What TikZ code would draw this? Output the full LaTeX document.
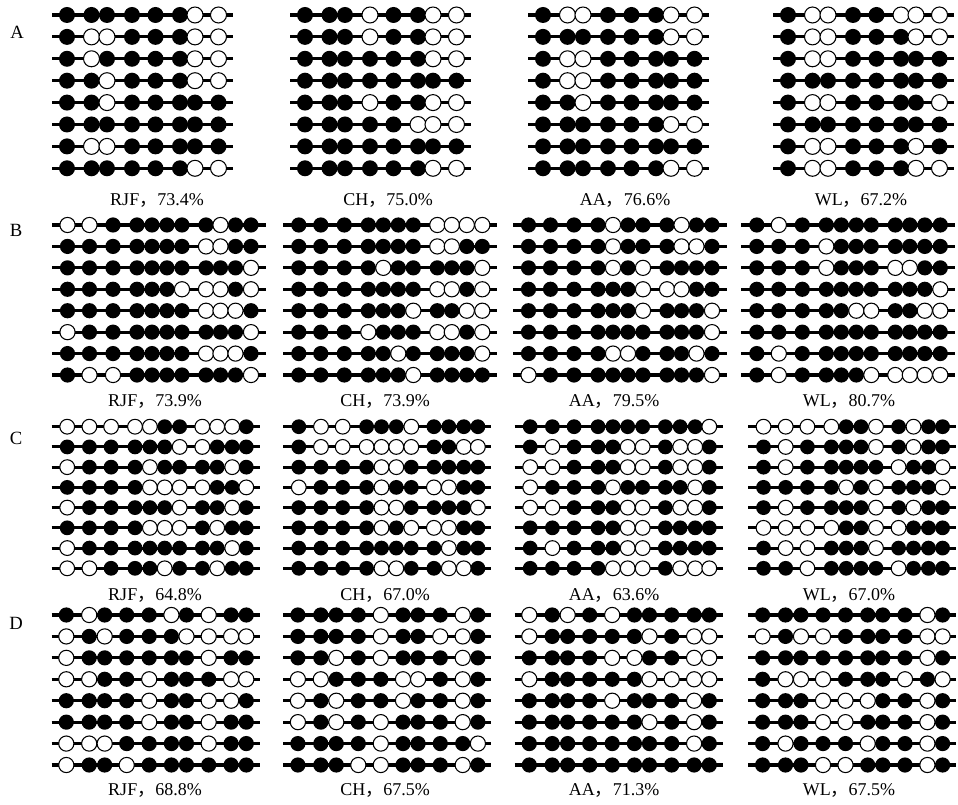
\documentclass[tikz,border=0pt]{standalone}
\usepackage{fontspec}
\setmainfont{Liberation Serif}
\newfontfamily\cjk{Noto Sans CJK SC}
\usepackage{xstring}
\tikzset{
  strand/.style={line width=2.3pt, black},
  opencpg/.style={fill=white, draw=black, line width=0.8pt},
  fullcpg/.style={fill=black},
  panellabel/.style={font=\fontsize{13.5}{15}\selectfont, inner sep=0pt, anchor=center},
  rowletter/.style={font=\fontsize{14}{16}\selectfont, inner sep=0pt, anchor=center}
}
\def\PA{15,39.5,55,80,103.5,128,143,166.5}
\def\PB{15.5,37.5,61,85,100,115,130,154,168.5,183.5,199}
\def\PC{15.5,37.7,59.4,83.3,98.2,113,128,150.6,165.5,180.5,194.6}
\def\PD{14.6,37.5,53,75,97.5,119.7,134.8,157,179.4,194.6}
% #1 x0, #2 y0, #3 dy, #4 radius, #5 strand length, #6 site-position macro, #7 rows
\newcommand{\mpanel}[7]{%
  \foreach \rowstr [count=\ri from 0] in {#7} {%
    \pgfmathsetmacro{\yy}{#2+\ri*#3}%
    \draw[strand] (#1,\yy) -- ++(#5,0);
    \foreach \p [count=\k] in #6 {%
      \pgfmathsetmacro{\xx}{#1+\p}%
      \StrChar{\rowstr}{\k}[\cc]%
      \IfStrEq{\cc}{1}{%
        \fill[fullcpg] (\xx,\yy) circle[radius=#4];
      }{%
        \filldraw[opencpg] (\xx,\yy) circle[radius=#4];
      }%
    }
  }
}
\newcommand{\cm}{{\cjk ，}}
\begin{document}
\begin{tikzpicture}[x=0.75pt,y=-0.75pt]
\useasboundingbox (0,0) rectangle (958,805);
\fill[white] (0,0) rectangle (958,805);

% ---------- A ----------
\node[rowletter] (LA) at (17,32) {A};
\mpanel{52}{15}{21.9}{8}{181}{\PA}{11111100,10011100,10111100,11011100,11011111,11111111,10011111,11111100}
\mpanel{290}{15}{21.9}{8}{181}{\PA}{11101100,11101100,11111100,11111111,11101100,11111000,11111111,11111100}
\mpanel{528}{15}{21.9}{8}{181}{\PA}{10011100,11111100,10011111,10011111,11011111,11111100,11111111,11111100}
\mpanel{773}{15}{21.9}{8}{181}{\PA}{10011000,10011100,10011111,11111111,10011110,11111111,10011101,10011100}
\node[panellabel] (a1) at (157,200) {RJF\cm 73.4\%};
\node[panellabel] (a2) at (388,200) {CH\cm 75.0\%};
\node[panellabel] (a3) at (625,200) {AA\cm 76.6\%};
\node[panellabel] (a4) at (861,200) {WL\cm 67.2\%};

% ---------- B ----------
\node[rowletter] (LB) at (16,230) {B};
\mpanel{52}{225}{21.43}{7.6}{214}{\PB}{00111111011,11111110011,11111111110,11111100010,11111110001,01111111110,11111110001,10011111110}
\mpanel{283.3}{225}{21.43}{7.6}{214}{\PB}{11111110000,11111110011,11110111110,11111110010,11111101100,11101110010,11111011110,11111101111}
\mpanel{513}{225}{21.43}{7.6}{214}{\PB}{11110111011,11110111001,11110101111,11111100011,11111101110,11111111110,11110011101,01111111110}
\mpanel{741.3}{225}{21.43}{7.6}{214}{\PB}{10111111111,11101111111,11101110011,11111111110,11111001100,11111111111,10111111111,10111100000}
\node[panellabel] (b1) at (155,401) {RJF\cm 73.9\%};
\node[panellabel] (b2) at (385,401) {CH\cm 73.9\%};
\node[panellabel] (b3) at (614,401) {AA\cm 79.5\%};
\node[panellabel] (b4) at (849,401) {WL\cm 80.7\%};

% ---------- C ----------
\node[rowletter] (LC) at (16,438) {C};
\mpanel{51.7}{426.7}{20.23}{7.4}{208}{\PC}{00000110001,11111100111,01110111101,11110000110,01111101101,11110001011,01111111101,00111011011}
\mpanel{283.3}{426.7}{20.23}{7.4}{208}{\PC}{10011101111,10000001100,11110011111,01110110011,11110011110,11110100011,11111111011,11110011001}
\mpanel{514.7}{426.7}{20.23}{7.4}{208}{\PC}{11111111110,10111001001,00111001001,01110111101,00111001001,11111001111,10111001111,11110001000}
\mpanel{748}{426.7}{20.23}{7.4}{208}{\PC}{00001101011,10111101011,10111110110,11110101110,10111101011,00001100111,10011101111,11011110111}
\node[panellabel] (c1) at (155,595) {RJF\cm 64.8\%};
\node[panellabel] (c2) at (385,595) {CH\cm 67.0\%};
\node[panellabel] (c3) at (614,595) {AA\cm 63.6\%};
\node[panellabel] (c4) at (849,595) {WL\cm 67.0\%};

% ---------- D ----------
\node[rowletter] (LD) at (16,623) {D};
\mpanel{51.7}{615}{21.43}{7.6}{208}{\PD}{1011101011,0101110000,0111111011,0011011100,1111011001,1111011011,0001111011,0110111111}
\mpanel{283.3}{615}{21.43}{7.6}{208}{\PD}{1111011101,1111011001,1101011101,0011100101,0101101101,0101011101,1111011110,1110011101}
\mpanel{514.7}{615}{21.43}{7.6}{208}{\PD}{0101011111,0111110100,1111001100,0111110000,1111011101,1111110101,1111111101,1111111111}
\mpanel{748}{615}{21.43}{7.6}{208}{\PD}{1111111101,0100111100,1111111101,1000111010,1110001101,1110011101,1011101101,1110011101}
\node[panellabel] (d1) at (155,790) {RJF\cm 68.8\%};
\node[panellabel] (d2) at (385,790) {CH\cm 67.5\%};
\node[panellabel] (d3) at (614,790) {AA\cm 71.3\%};
\node[panellabel] (d4) at (849,790) {WL\cm 67.5\%};
\end{tikzpicture}
\end{document}
